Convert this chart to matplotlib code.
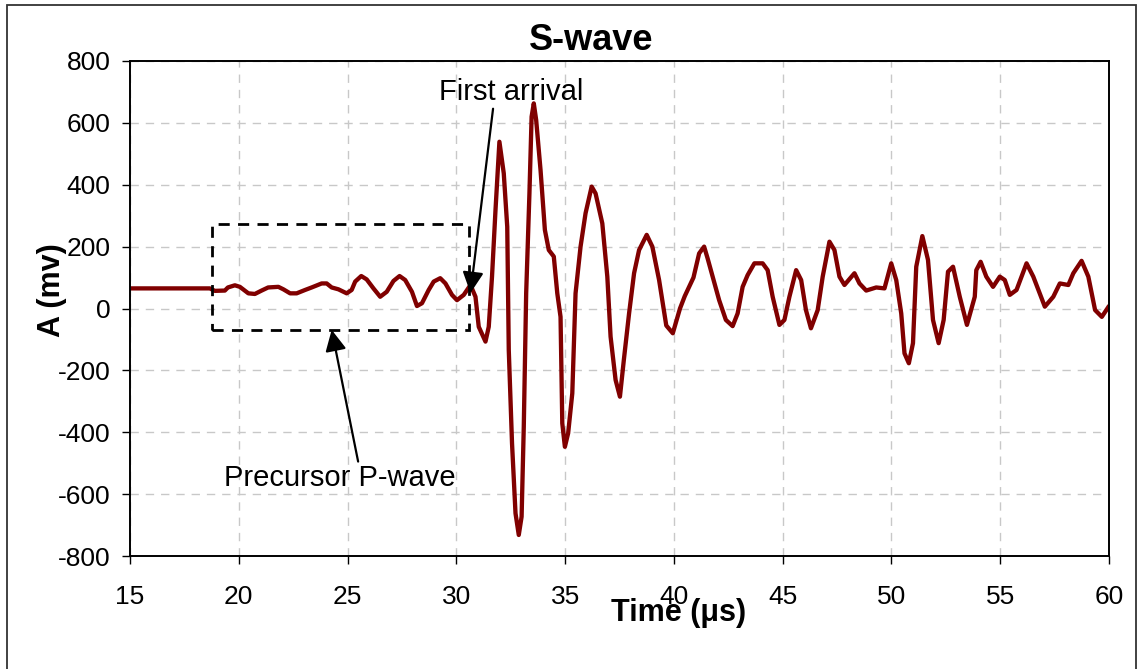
import matplotlib
matplotlib.use("Agg")
import matplotlib.pyplot as plt
from matplotlib.patches import Rectangle
from matplotlib.ticker import FuncFormatter

# ---------------------------------------------------------------
# S-wave trace
# ---------------------------------------------------------------
time_us = [15.0, 18.67, 18.9, 19.36, 19.5, 19.82, 20.05, 20.44, 20.74, 21.05,
           21.35, 21.82, 22.05, 22.36, 22.66, 23.05, 23.35, 23.81, 24.04, 24.27,
           24.58, 24.96, 25.19, 25.35, 25.63, 25.88, 26.19, 26.5, 26.8, 27.11,
           27.39, 27.65, 27.96, 28.19, 28.42, 28.73, 28.96, 29.26, 29.5, 29.8,
           30.03, 30.34, 30.65, 30.88, 31.03, 31.34, 31.49, 31.64, 31.8, 31.98,
           32.18, 32.34, 32.41, 32.56, 32.72, 32.87, 33.0, 33.1, 33.21, 33.36,
           33.46, 33.56, 33.67, 33.87, 34.07, 34.25, 34.48, 34.64, 34.79, 34.87,
           34.99, 35.14, 35.33, 35.48, 35.71, 35.94, 36.22, 36.4, 36.71, 36.94,
           37.09, 37.32, 37.52, 37.7, 37.94, 38.17, 38.4, 38.75, 39.01, 39.32,
           39.65, 39.95, 40.28, 40.5, 40.9, 41.16, 41.39, 41.55, 42.08, 42.39,
           42.7, 42.93, 43.16, 43.39, 43.7, 44.08, 44.31, 44.54, 44.85, 45.08,
           45.31, 45.62, 45.85, 46.07, 46.3, 46.61, 46.84, 47.15, 47.38, 47.61,
           47.84, 48.3, 48.53, 48.84, 49.3, 49.68, 49.99, 50.22, 50.45, 50.6,
           50.8, 50.99, 51.14, 51.42, 51.68, 51.91, 52.17, 52.4, 52.6, 52.83,
           53.14, 53.47, 53.83, 53.9, 54.1, 54.36, 54.67, 54.98, 55.21, 55.44,
           55.75, 56.21, 56.52, 57.05, 57.44, 57.74, 58.13, 58.36, 58.74, 59.05,
           59.36, 59.67, 60.0]
amp_mv = [65, 65, 57, 58, 68, 75, 70, 49, 47, 58,
          68, 70, 62, 49, 49, 60, 68, 81, 81, 68,
          62, 49, 60, 87, 105, 94, 65, 38, 54, 89,
          105, 92, 54, 8, 17, 60, 87, 98, 81, 44,
          27, 44, 76, 38, -59, -107, -59, 103, 318, 539,
          437, 264, -134, -436, -662, -732, -673, -382, 49, 372,
          620, 663, 609, 448, 254, 189, 168, 49, -27, -371,
          -447, -403, -274, 49, 200, 308, 394, 372, 275, 103,
          -91, -231, -285, -166, -16, 114, 189, 238, 200, 92,
          -55, -80, 0, 40, 100, 178, 200, 162, 27, -37,
          -57, -16, 70, 108, 146, 146, 124, 38, -53, -37,
          38, 124, 92, -5, -64, -5, 103, 216, 189, 103,
          76, 114, 81, 58, 68, 65, 146, 92, -16, -145,
          -177, -112, 135, 234, 157, -37, -112, -37, 119, 135,
          38, -53, 38, 124, 151, 103, 70, 103, 92, 44,
          60, 146, 103, 6, 38, 81, 76, 114, 154, 103,
          -5, -27, 8]

x_ticks = [15, 20, 25, 30, 35, 40, 45, 50, 55, 60]
y_ticks = [-800, -600, -400, -200, 0, 200, 400, 600, 800]

# precursor box (time range, amplitude range)
box_t = [18.78, 30.57]
box_a = [-69, 273]

plt.rcParams['font.family'] = ['Liberation Sans', 'DejaVu Sans']

fig = plt.figure(figsize=(11.42, 6.69), dpi=100)
W, H = 1142, 669
ax = fig.add_axes([130 / W, 1 - 556 / H, (1109 - 130) / W, (556 - 61) / H])

# outer frame like the spreadsheet chart area
fig.patches.append(Rectangle((7 / W, -0.02), (1136 - 7) / W, 1 - 5 / H + 0.02,
                             transform=fig.transFigure, fill=False,
                             edgecolor='#333333', lw=1.3))

ax.plot(time_us, amp_mv, color='#800000', lw=3.1,
        solid_joinstyle='round', solid_capstyle='round')

ax.set_xlim(15, 60)
ax.set_ylim(-800, 800)
ax.set_xticks(x_ticks)
ax.set_yticks(y_ticks)
# plain hyphen for negatives, as in the original
ax.yaxis.set_major_formatter(FuncFormatter(lambda v, p: '%d' % v))
ax.tick_params(direction='out', length=6, width=1, labelsize=19,
               top=False, right=False)
ax.tick_params(axis='x', pad=15)
ax.tick_params(axis='y', pad=8)
ax.grid(True, color='#c8c8c8', ls=(0, (6, 5)), lw=1)
for s in ax.spines.values():
    s.set_linewidth(1.4)
    s.set_color('black')

# dashed box round the precursor P-wave
ax.add_patch(Rectangle((box_t[0], box_a[0]), box_t[1] - box_t[0], box_a[1] - box_a[0],
                       fill=False, edgecolor='black', lw=2, ls=(0, (4, 3)), zorder=3))

ax.annotate('First arrival', xy=(30.65, 50), xytext=(32.5, 700),
            ha='center', va='center', fontsize=21,
            arrowprops=dict(arrowstyle='-|>', mutation_scale=32, lw=1.6, color='black',
                            shrinkA=0, shrinkB=0, relpos=(0.38, 0.0)))
ax.annotate('Precursor P-wave', xy=(24.27, -69), xytext=(24.66, -549),
            ha='center', va='center', fontsize=21,
            arrowprops=dict(arrowstyle='-|>', mutation_scale=32, lw=1.6, color='black',
                            shrinkA=0, shrinkB=0, relpos=(0.58, 1.0)))

fig.text(591 / W, 1 - 40 / H, 'S-wave', ha='center', va='center',
         fontsize=26, fontweight='bold')
fig.text(679 / W, 1 - 613 / H, 'Time (\u03bcs)', ha='center', va='center',
         fontsize=22, fontweight='bold')
fig.text(52 / W, 1 - 290 / H, 'A (mv)', ha='center', va='center',
         fontsize=22, fontweight='bold', rotation=90)

fig.savefig('out.png', dpi=100)
